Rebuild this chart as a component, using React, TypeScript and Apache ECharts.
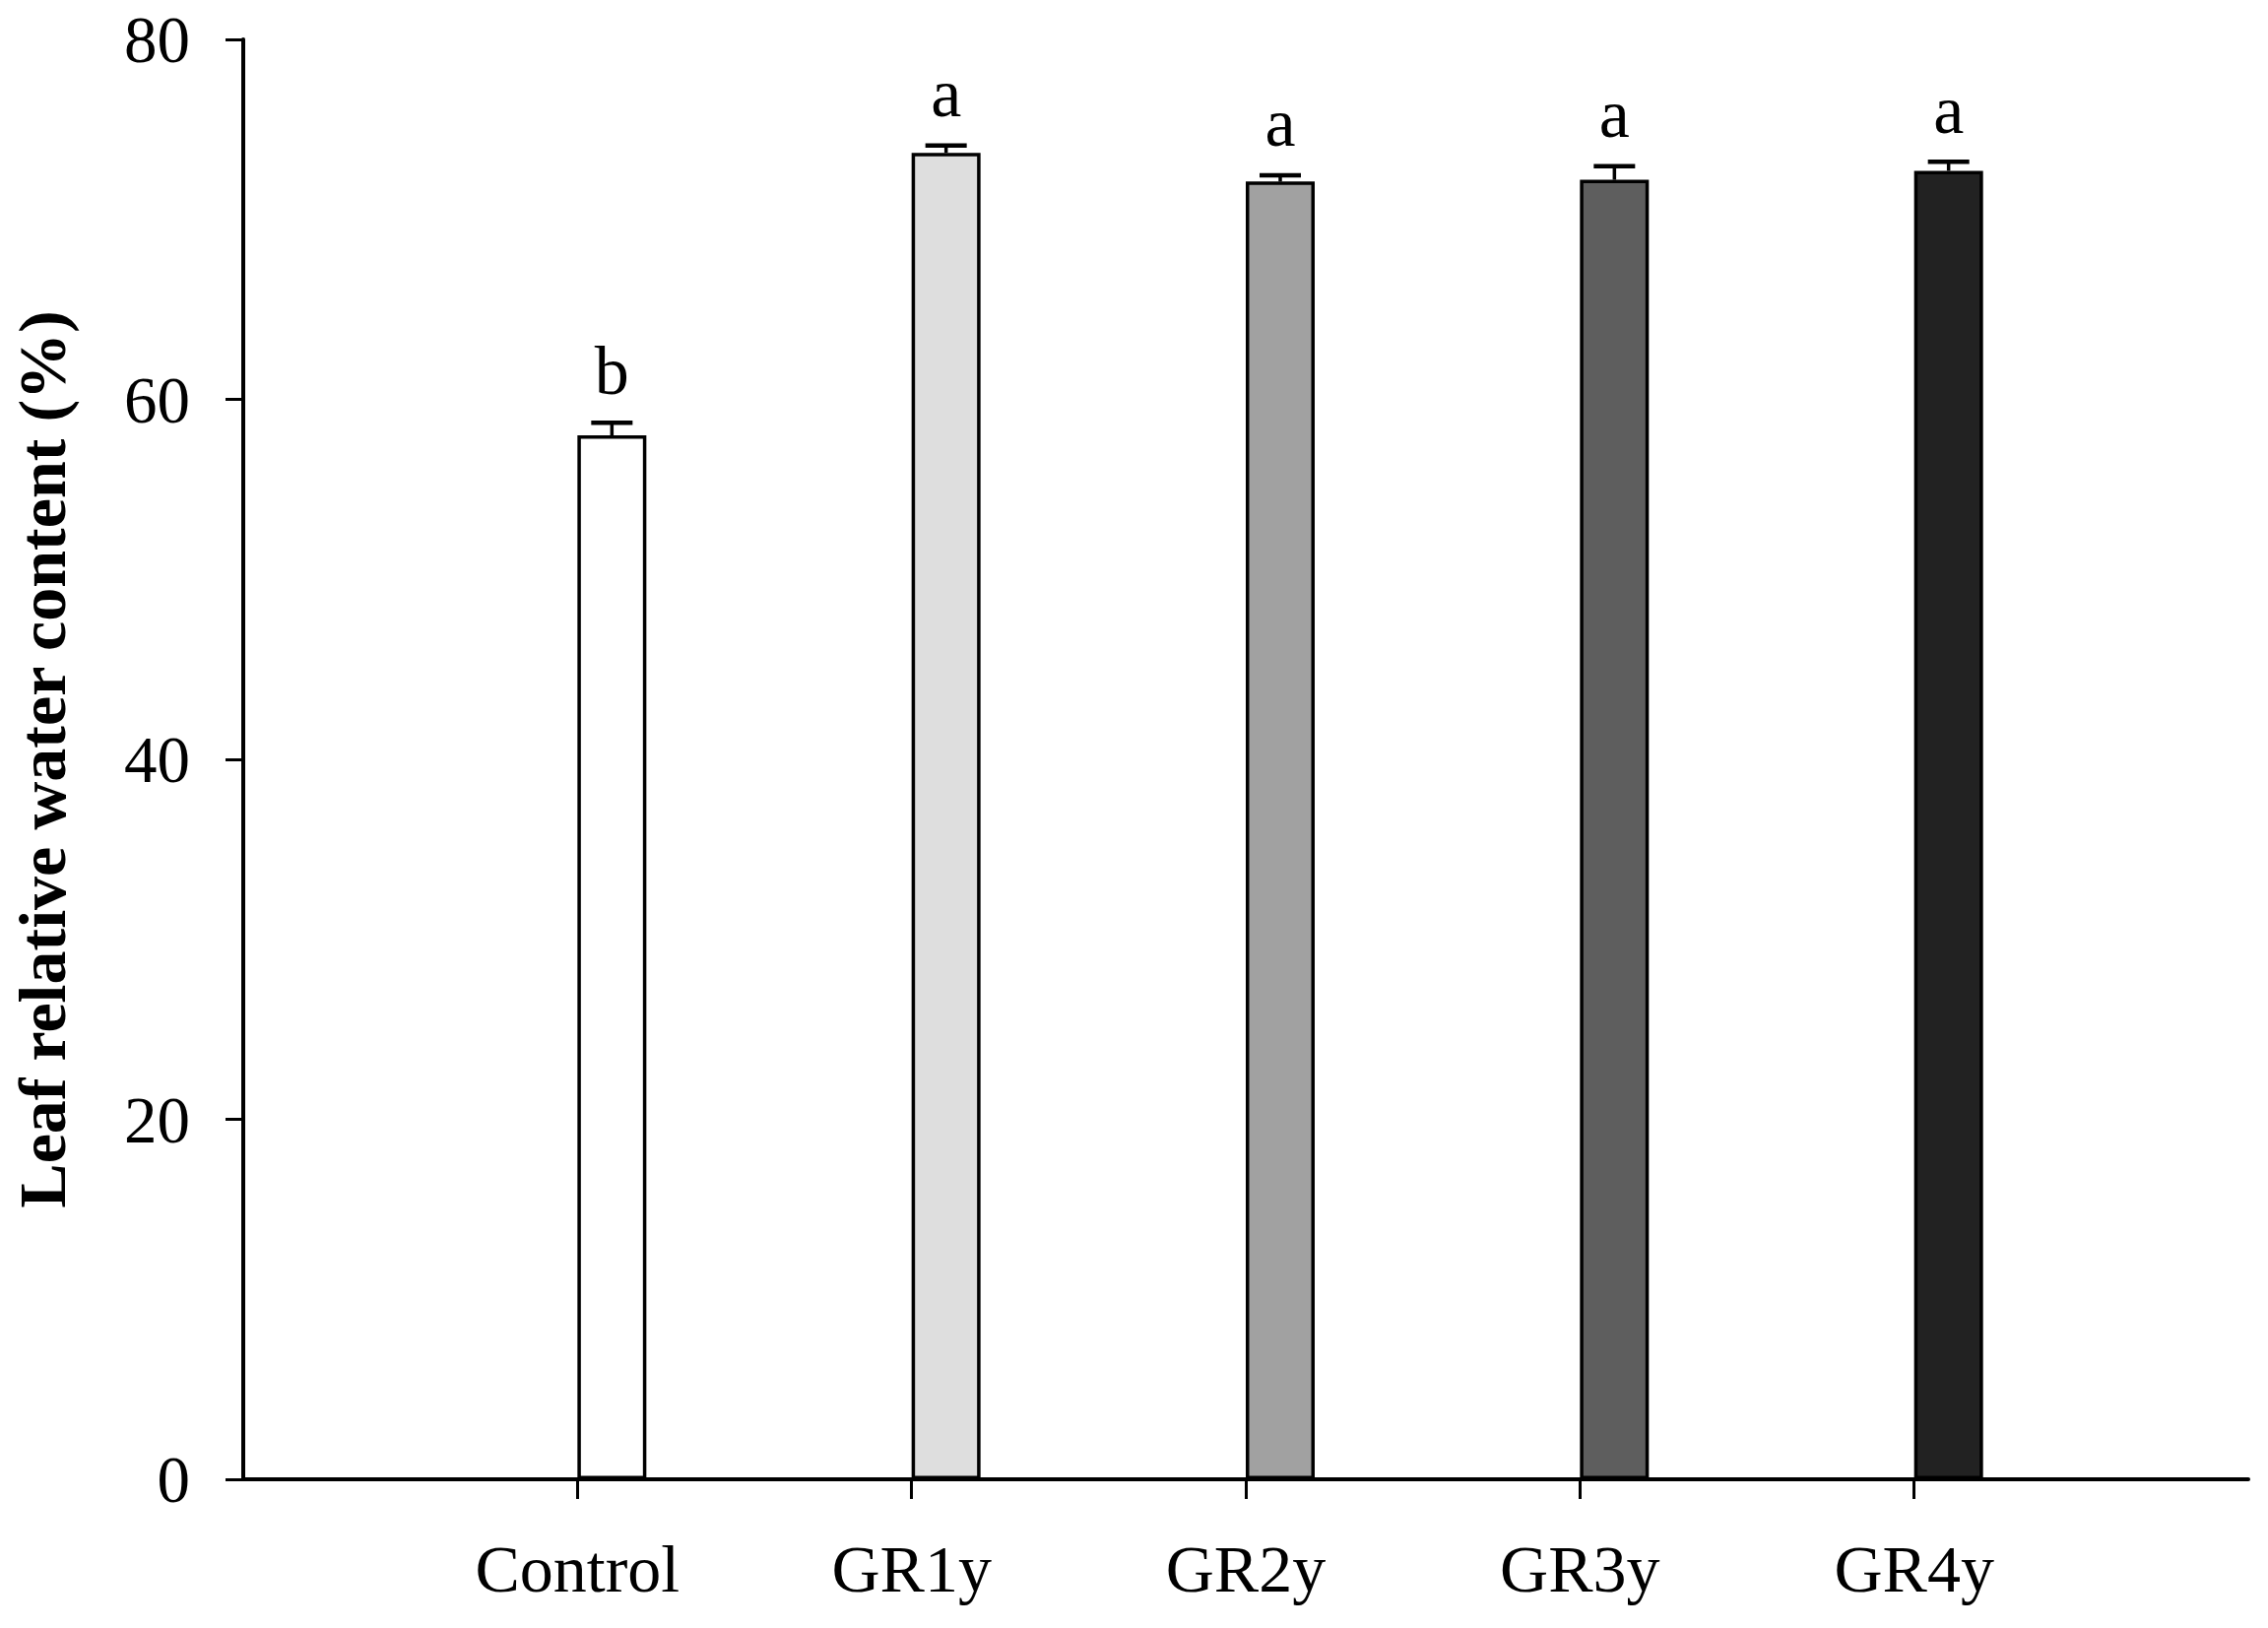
import React, { useEffect, useRef } from "react";
import * as echarts from "echarts";

const categories = ["Control", "GR1y", "GR2y", "GR3y", "GR4y"];
const means = [58.0, 73.7, 72.1, 72.2, 72.7];
const errors = [0.7, 0.4, 0.35, 0.75, 0.5];
const letters = ["b", "a", "a", "a", "a"];
const barColors = ["#ffffff", "#dedede", "#a1a1a1", "#5e5e5e", "#222222"];
const yMin = 0;
const yMax = 80;
const yStep = 20;
const yTitle = "Leaf relative water content (%)";

const FONT = "'Liberation Serif', 'Times New Roman', serif";
const BAR_W = 70;

export default function App() {
  const ref = useRef<HTMLDivElement>(null);
  useEffect(() => {
    if (!ref.current) return;
    const chart = echarts.init(ref.current, null, { renderer: "svg" });
    const axisData = ["", ...categories, ""];
    const barData: any[] = ["-"];
    means.forEach((v, i) =>
      barData.push({ value: v, itemStyle: { color: barColors[i] } })
    );
    barData.push("-");
    const errData = means.map((v, i) => [i + 1, v, errors[i]]);

    chart.setOption({
      animation: false,
      backgroundColor: "#ffffff",
      grid: { left: 247, right: 20, top: 40, bottom: 151, containLabel: false },
      xAxis: {
        type: "category",
        data: axisData,
        boundaryGap: false,
        axisLine: { show: true, lineStyle: { color: "#000", width: 4 } },
        axisTick: {
          show: true,
          length: 20,
          interval: (i: number) => i >= 1 && i <= categories.length,
          lineStyle: { color: "#000", width: 3 },
        },
        axisLabel: {
          interval: 0,
          margin: 57,
          color: "#000",
          fontSize: 68,
          fontFamily: FONT,
        },
        splitLine: { show: false },
      },
      yAxis: {
        type: "value",
        min: yMin,
        max: yMax,
        interval: yStep,
        name: yTitle,
        nameLocation: "middle",
        nameGap: 170,
        nameTextStyle: {
          color: "#000",
          fontSize: 68,
          fontWeight: "bold",
          fontFamily: FONT,
        },
        axisLine: { show: true, lineStyle: { color: "#000", width: 4 } },
        axisTick: { show: true, length: 18, lineStyle: { color: "#000", width: 3 } },
        axisLabel: {
          margin: 54,
          color: "#000",
          fontSize: 67,
          fontFamily: FONT,
        },
        splitLine: { show: false },
      },
      series: [
        {
          type: "bar",
          data: axisData.map(() => "-"),
          barWidth: BAR_W,
          barGap: "0%",
          silent: true,
          itemStyle: { opacity: 0 },
        },
        {
          type: "bar",
          data: barData,
          barWidth: BAR_W,
          barGap: "0%",
          itemStyle: { borderColor: "#000", borderWidth: 3.5 },
          z: 2,
        },
        {
          type: "custom",
          z: 5,
          data: errData,
          renderItem: (params: any, api: any) => {
            const idx = api.value(0);
            const v = api.value(1);
            const e = api.value(2);
            const base = api.coord([idx, v]);
            const top = api.coord([idx, v + e]);
            const cx = base[0] + BAR_W / 2;
            return {
              type: "group",
              children: [
                {
                  type: "line",
                  shape: { x1: cx, y1: base[1], x2: cx, y2: top[1] },
                  style: { stroke: "#000", lineWidth: 3.5 },
                },
                {
                  type: "line",
                  shape: { x1: cx - 21, y1: top[1], x2: cx + 21, y2: top[1] },
                  style: { stroke: "#000", lineWidth: 4.5 },
                },
                {
                  type: "text",
                  x: cx,
                  y: top[1] - 18,
                  style: {
                    text: letters[params.dataIndex],
                    fontSize: 70,
                    fontFamily: FONT,
                    fill: "#000",
                    align: "center",
                    verticalAlign: "bottom",
                  },
                },
              ],
            };
          },
        },
      ],
    });
    return () => chart.dispose();
  }, []);
  return (
    <div
      ref={ref}
      style={{ position: "fixed", left: 0, top: 0, width: 2303, height: 1653 }}
    />
  );
}
